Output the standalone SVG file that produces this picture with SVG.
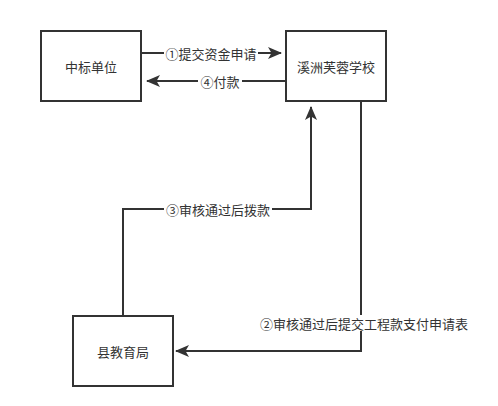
<svg xmlns="http://www.w3.org/2000/svg" width="498" height="406" viewBox="0 0 498 406">
<style>
.box{fill:#fff;stroke:#333;stroke-width:2}
.ln{fill:none;stroke:#333;stroke-width:2}
.t{font-family:"Noto Sans CJK SC","Noto Sans",sans-serif;font-size:13px;fill:#333;text-anchor:middle;dominant-baseline:central}
.lb{fill:#fff}
</style>
<defs>
<marker id="ah" markerUnits="userSpaceOnUse" markerWidth="14" markerHeight="12" viewBox="0 0 14 12" refX="13" refY="6" orient="auto">
<path d="M0,0 L14,6 L0,12 L3.5,6 Z" fill="#333"/>
</marker>
</defs>
<rect width="498" height="406" fill="#fff"/>
<g id="connectors">
<path class="ln" d="M141,53 H281" marker-end="url(#ah)"/>
<path class="ln" d="M286,81 H147" marker-end="url(#ah)"/>
<path class="ln" d="M123,316 V209 H311 V107" marker-end="url(#ah)"/>
<path class="ln" d="M361,101 V351 H176" marker-end="url(#ah)"/>
<rect class="lb" x="164" y="45" width="94" height="16"/>
<text class="t" x="211" y="53">①提交资金申请</text>
<rect class="lb" x="198" y="73" width="44" height="16"/>
<text class="t" x="220" y="81">④付款</text>
<rect class="lb" x="164" y="201" width="108" height="16"/>
<text class="t" x="218" y="209">③审核通过后拨款</text>
<rect class="lb" x="258" y="315" width="212" height="16"/>
<text class="t" x="364" y="323">②审核通过后提交工程款支付申请表</text>
</g>
<g id="node1">
<rect class="box" x="41" y="31" width="100" height="70"/>
<text class="t" x="91" y="66">中标单位</text>
</g>
<g id="node2">
<rect class="box" x="286" y="31" width="100" height="70"/>
<text class="t" x="336" y="66">溪洲芙蓉学校</text>
</g>
<g id="node3">
<rect class="box" x="73" y="316" width="100" height="70"/>
<text class="t" x="123" y="351">县教育局</text>
</g>
</svg>
